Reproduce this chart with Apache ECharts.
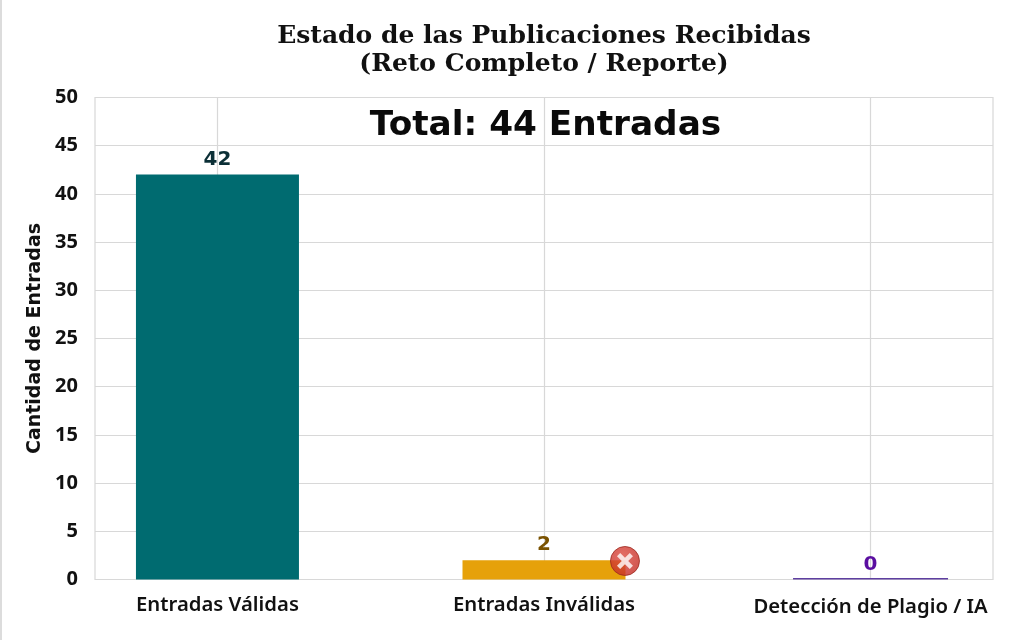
<!DOCTYPE html>
<html><head><meta charset="utf-8">
<style>html,body{margin:0;padding:0;background:#fff}#c{width:1024px;height:640px}</style>
<script src="https://cdn.jsdelivr.net/npm/echarts@6/dist/echarts.min.js"></script>
</head><body><div id="c"></div>
<script>
const categories = ['Entradas Válidas', 'Entradas Inválidas', 'Detección de Plagio / IA'];
const positions = [0, 1, 2];
const values = [42, 2, 0];
const barColors = ['#006b70', '#e6a10a', '#5e3fa0'];
const labelColors = ['#0b2f36', '#7a5200', '#5a0ea0'];
const markerPoint = [1.248, 1.92];
const titleText = 'Estado de las Publicaciones Recibidas\n(Reto Completo / Reporte)';
const totalText = 'Total: 44 Entradas';
const yName = 'Cantidad de Entradas';

const chart = echarts.init(document.getElementById('c'), null, {renderer: 'canvas'});
const barItem = i => ({
  value: [positions[i], values[i]],
  itemStyle: {color: barColors[i]},
  label: {color: labelColors[i]}
});
const barLabel = {show: true, position: 'top', distance: 5, formatter: p => p.value[1],
  fontFamily: 'DejaVu Sans', fontWeight: 'bold', fontSize: 20};
const xFont = {fontFamily: 'Noto Sans', fontWeight: 600, fontSize: 20.3, color: '#111'};
chart.setOption({
  animation: false,
  backgroundColor: '#fff',
  title: [{
    text: titleText, left: 539, top: 17, textAlign: 'center',
    textStyle: {fontFamily: 'DejaVu Serif', fontWeight: 'bold', fontSize: 25, lineHeight: 28, color: '#111'}
  }, {
    text: totalText, left: 540.5, top: 104, textAlign: 'center',
    textStyle: {fontFamily: 'DejaVu Sans', fontWeight: 'bold', fontSize: 34.3, color: '#0a0a0a'}
  }],
  grid: {left: 95, right: 31, top: 97.5, bottom: 60.5, show: true, borderColor: '#d8d8d8', borderWidth: 1.2, backgroundColor: 'transparent'},
  xAxis: [{
    type: 'value', min: -0.375, max: 2.375,
    axisLine: {show: false},
    axisTick: {show: false, customValues: positions},
    splitLine: {show: true, lineStyle: {color: '#d8d8d8', width: 1.2}},
    axisLabel: Object.assign({
      customValues: positions, margin: 16,
      formatter: v => (Math.round(v) === 2 ? '{low|' + categories[2] + '}' : categories[Math.round(v)] || ''),
      rich: {low: Object.assign({padding: [2, 0, 0, 0]}, xFont)}
    }, xFont)
  }, {
    type: 'value', min: -0.375, max: 2.375, show: false, splitLine: {show: false}
  }],
  yAxis: {
    type: 'value', min: 0, max: 50, interval: 5,
    name: yName, nameLocation: 'middle', nameGap: 49, nameRotate: 90,
    nameTextStyle: {fontFamily: 'DejaVu Sans', fontWeight: 'bold', fontSize: 19, color: '#111'},
    axisLine: {show: false}, axisTick: {show: false},
    splitLine: {show: true, lineStyle: {color: '#d8d8d8', width: 1.2}},
    axisLabel: {margin: 17, color: '#111', fontFamily: 'Noto Sans', fontWeight: 700, fontSize: 20, padding: [3, 0, 0, 0]}
  },
  series: [{
    type: 'bar', barWidth: 163, z: 3,
    data: [barItem(0), barItem(1)], label: barLabel
  }, {
    type: 'bar', xAxisIndex: 1, barWidth: 155, barMinHeight: 1.6, z: 3,
    data: [barItem(2)], label: Object.assign({}, barLabel, {distance: 3})
  }, {
    type: 'scatter', z: 5, silent: true, symbol: 'circle', symbolSize: 29,
    itemStyle: {
      color: {type: 'radial', x: 0.42, y: 0.35, r: 0.7, colorStops: [{offset: 0, color: '#dd4a40'}, {offset: 1, color: '#c32a22'}]},
      borderColor: '#9c2a20', borderWidth: 1
    },
    data: [markerPoint]
  }, {
    type: 'scatter', z: 6, silent: true,
    symbol: 'path://M4 0L10 6L16 0L20 4L14 10L20 16L16 20L10 14L4 20L0 16L6 10L0 4Z',
    symbolSize: 16, itemStyle: {color: '#fff'},
    data: [markerPoint]
  }],
  graphic: [{type: 'rect', shape: {x: 0, y: 0, width: 2, height: 640}, style: {fill: '#dcdcdc'}, silent: true}]
});
</script></body></html>
